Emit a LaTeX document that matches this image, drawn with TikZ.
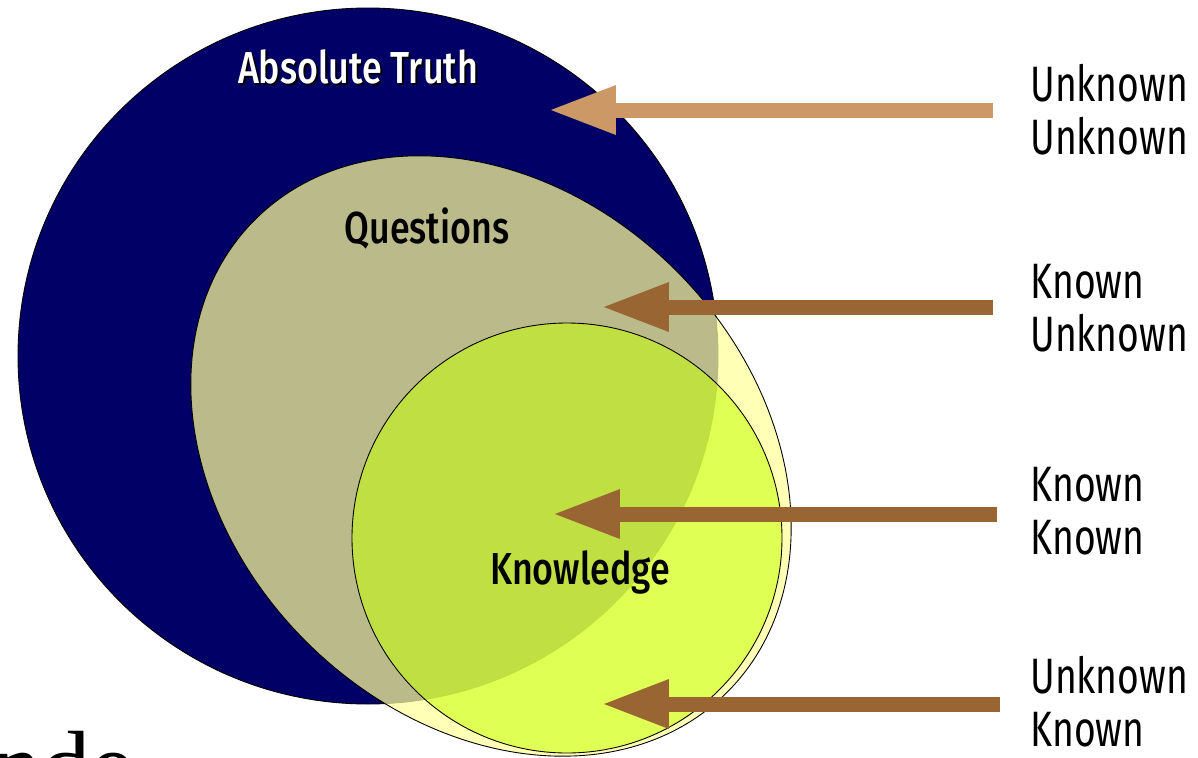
\documentclass[tikz,border=0pt]{standalone}
\usepackage{fontspec}
\setmainfont{Liberation Serif}
\newfontfamily\setfont[FakeStretch=0.8, BoldFont={Fira Sans Medium}]{Fira Sans}
\newfontfamily\sidefont[FakeStretch=0.75]{Fira Sans}
\usetikzlibrary{arrows.meta}

\definecolor{truthblue}{RGB}{0,0,102}
\definecolor{questfill}{RGB}{255,255,154}
\definecolor{knowfill}{RGB}{198,255,7}
\definecolor{lighttan}{RGB}{204,153,102}
\definecolor{darktan}{RGB}{153,102,51}

\tikzset{
  setlabel/.style={font=\setfont\bfseries\fontsize{25.5}{28}\selectfont, anchor=base, inner sep=0pt},
  sidelabel/.style={font=\sidefont\fontsize{28.3}{30.3}\selectfont, anchor=west, align=left, inner sep=0pt},
  bigarrow/.style={line width=0.3cm, -{Triangle[length=1.36cm,width=0.9cm]}},
}

\begin{document}
\begin{tikzpicture}[x=0.02cm,y=-0.02cm]
\useasboundingbox (0,0) rectangle (1198,758);
\begin{scope}
\clip (0,0) rectangle (1198,758);

% the three sets
\filldraw[fill=truthblue, draw=black, line width=0.5pt] (368,356) ellipse [x radius=350, y radius=348];
\filldraw[fill=questfill, fill opacity=0.73, draw=black, line width=0.5pt, rotate around={-45:(491,456)}]
  (491,456) ellipse [x radius=334, y radius=262];
\filldraw[fill=knowfill, fill opacity=0.55, draw=black, line width=0.5pt] (567,538) circle [radius=215];

% set names
\node[setlabel, text=black] (truth-sh) at (360,85) {Absolute Truth};
\node[setlabel, text=white] (truth) at (358,83) {Absolute Truth};
\node[setlabel] (quest) at (427,243) {Questions};
\node[setlabel] (know) at (580,584) {Knowledge};

% labels on the right
\node[sidelabel] (uu) at (1030,110) {Unknown\\Unknown};
\node[sidelabel] (ku) at (1030,308) {Known\\Unknown};
\node[sidelabel] (kk) at (1030,511) {Known\\Known};
\node[sidelabel] (uk) at (1030,702) {Unknown\\Known};

\coordinate (uu-tip) at (548,110);
\coordinate (ku-tip) at (601,307);
\coordinate (kk-tip) at (552,514);
\coordinate (uk-tip) at (601,704);

\draw[bigarrow, lighttan] ([shift={(-37,0)}]uu.west) -- (uu-tip);
\draw[bigarrow, darktan] ([shift={(-37,-1)}]ku.west) -- (ku-tip);
\draw[bigarrow, darktan] ([shift={(-33,3)}]kk.west) -- (kk-tip);
\draw[bigarrow, darktan] ([shift={(-30,2)}]uk.west) -- (uk-tip);

% cut-off text at the lower left
\node[anchor=base west, inner sep=0pt, font=\fontsize{56}{56}\selectfont] (rest) at (-8,799) {nde};
\end{scope}
\end{tikzpicture}
\end{document}
